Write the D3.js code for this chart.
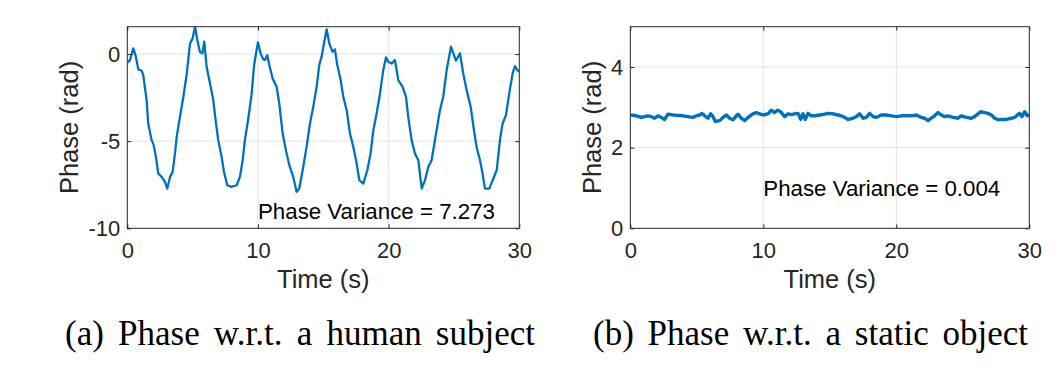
<!DOCTYPE html>
<html><head><meta charset="utf-8">
<script src="https://cdn.jsdelivr.net/npm/d3@7"></script>
<style>
body{margin:0;background:#fff;}
svg{display:block;}
</style></head>
<body>
<svg id="chart" width="1062" height="376"></svg>
<script>
// ---------- data ----------
const xTicks = [0, 10, 20, 30];
const humanYTicks = [-10, -5, 0];
const staticYTicks = [0, 2, 4];

const humanTime = [0, 0.2, 0.46, 0.66, 0.84, 1.1, 1.22, 1.48, 1.6, 1.86,
  2.0, 2.19, 2.37, 2.63, 2.88, 3.06, 3.27, 3.47, 3.65, 3.78,
  4.03, 4.29, 4.54, 4.8, 5.0, 5.18, 5.36, 5.56, 5.74, 5.89,
  6.07, 6.33, 6.58, 6.76, 6.96, 7.22, 7.4, 7.65, 7.98, 8.37,
  8.62, 8.83, 9.0, 9.26, 9.52, 9.69, 9.85, 10.0, 10.2, 10.41,
  10.54, 10.71, 10.87, 11.12, 11.43, 11.63, 11.89, 12.14, 12.4, 12.7,
  12.96, 13.16, 13.42, 13.72, 13.98, 14.23, 14.49, 14.69, 14.87, 15.05,
  15.26, 15.46, 15.71, 15.89, 16.07, 16.33, 16.53, 16.79, 17.04, 17.3,
  17.55, 17.76, 18.06, 18.37, 18.62, 18.83, 19.08, 19.34, 19.59, 19.8,
  19.97, 20.23, 20.48, 20.74, 21.07, 21.33, 21.5, 21.76, 22.01, 22.27,
  22.53, 22.78, 23.04, 23.29, 23.67, 23.93, 24.18, 24.44, 24.77, 24.95,
  25.15, 25.46, 25.71, 25.97, 26.28, 26.53, 26.73, 26.99, 27.19, 27.37,
  27.7, 27.96, 28.27, 28.52, 28.72, 28.98, 29.23, 29.49, 29.67, 29.85, 30.0];
const humanPhase = [-0.5, -0.35, 0.33, -0.15, -0.88, -0.96, -1.2, -2.64, -4.0, -4.94,
  -5.17, -5.9, -6.86, -7.05, -7.34, -7.72, -7.05, -6.76, -5.7, -4.75,
  -3.6, -2.45, -1.2, 0.61, 0.9, 1.57, 0.8, 0.13, 0.04, 0.71,
  -0.73, -1.69, -2.64, -3.8, -4.94, -5.9, -6.76, -7.53, -7.62, -7.53,
  -7.05, -6.1, -4.94, -3.7, -2.26, -0.73, 0.04, 0.67, 0.04, -0.31,
  -0.34, -0.06, -0.63, -1.4, -1.88, -2.84, -4.56, -5.52, -6.38, -7.05,
  -7.91, -7.72, -6.67, -5.33, -3.98, -3.03, -1.88, -0.63, -0.15, 0.61,
  1.42, 0.61, 0.13, 0.27, -0.63, -1.49, -2.45, -3.22, -4.56, -5.33,
  -6.28, -7.24, -7.43, -6.67, -5.7, -4.37, -3.41, -2.26, -0.92, -0.19,
  -0.44, -0.54, -0.34, -1.49, -1.88, -2.45, -3.6, -4.94, -5.7, -6.09,
  -7.72, -7.24, -6.47, -6.09, -4.37, -3.22, -2.45, -0.92, 0.42, 0.04,
  -0.38, 0.04, -1.11, -2.07, -3.03, -4.37, -5.33, -6.09, -6.86, -7.72,
  -7.72, -7.24, -6.67, -4.94, -4.0, -3.5, -2.26, -1.11, -0.69, -0.92, -1.0];

const staticTime = [0.00, 0.45, 0.83, 1.08, 1.33, 1.58, 1.83, 2.08, 2.33, 2.58,
  2.83, 3.21, 3.59, 3.96, 4.34, 4.71, 4.96, 5.22, 5.39, 5.59,
  5.84, 6.04, 6.22, 6.39, 6.72, 6.97, 7.22, 7.47, 7.72, 7.97,
  8.10, 8.35, 8.60, 8.85, 9.22, 9.48, 9.73, 9.98, 10.35, 10.60,
  10.85, 11.06, 11.31, 11.61, 11.86, 12.11, 12.36, 12.61, 12.81, 12.98,
  13.16, 13.36, 13.61, 13.86, 14.24, 14.61, 14.86, 15.24, 15.62, 15.87,
  16.12, 16.37, 16.74, 16.99, 17.24, 17.50, 17.75, 18.00, 18.25, 18.50,
  18.87, 19.25, 19.63, 20.00, 20.38, 20.76, 21.13, 21.51, 21.88, 22.13,
  22.38, 22.63, 22.88, 23.14, 23.39, 23.64, 23.89, 24.26, 24.64, 24.89,
  25.27, 25.64, 25.89, 26.14, 26.34, 26.64, 26.89, 27.15, 27.40, 27.65,
  27.90, 28.27, 28.65, 28.90, 29.10, 29.27, 29.45, 29.65, 29.85, 30.00];
const staticPhase = [2.81, 2.79, 2.75, 2.77, 2.79, 2.77, 2.73, 2.79, 2.75, 2.70,
  2.83, 2.81, 2.80, 2.79, 2.77, 2.75, 2.79, 2.81, 2.85, 2.79,
  2.73, 2.84, 2.77, 2.65, 2.67, 2.75, 2.81, 2.73, 2.69, 2.79,
  2.83, 2.73, 2.67, 2.75, 2.84, 2.87, 2.84, 2.81, 2.84, 2.93,
  2.87, 2.93, 2.89, 2.77, 2.84, 2.82, 2.84, 2.85, 2.70, 2.84,
  2.70, 2.85, 2.79, 2.79, 2.81, 2.83, 2.85, 2.84, 2.81, 2.79,
  2.75, 2.70, 2.73, 2.77, 2.84, 2.73, 2.75, 2.85, 2.77, 2.75,
  2.81, 2.81, 2.79, 2.77, 2.79, 2.79, 2.79, 2.81, 2.75, 2.73,
  2.67, 2.73, 2.79, 2.87, 2.81, 2.77, 2.79, 2.75, 2.73, 2.79,
  2.75, 2.73, 2.77, 2.84, 2.89, 2.87, 2.85, 2.81, 2.73, 2.69,
  2.70, 2.70, 2.73, 2.75, 2.81, 2.85, 2.77, 2.89, 2.79, 2.81];

const panels = [
  {time: humanTime, phase: humanPhase, yDomain: [-10, Math.PI / 2], yTicks: humanYTicks,
   note: "Phase Variance = 7.273", noteAt: [10, -9],
   caption: "(a) Phase w.r.t. a human subject"},
  {time: staticTime, phase: staticPhase, yDomain: [0, 5], yTicks: staticYTicks,
   note: "Phase Variance = 0.004", noteAt: [10, 1],
   caption: "(b) Phase w.r.t. a static object"}
];

// ---------- layout ----------
const boxes = [
  {x0: 127.3, x1: 519.3, yLab: 60, cap: [65, 535], lw: 2.3},
  {x0: 630.3, x1: 1029.3, yLab: 583, cap: [593, 1028], lw: 3.4}
];
const plotTop = 26.7, plotBottom = 228.3;
const axisColor = "#262626";
const gridColor = "#e2e2e2";
const lineColor = "#0072BD";
const sans = "'Liberation Sans', Arial, Helvetica, sans-serif";

const svg = d3.select("#chart");
svg.append("rect").attr("width", 1062).attr("height", 376).attr("fill", "#fff");

panels.forEach((p, i) => {
  const b = boxes[i];
  const x = d3.scaleLinear().domain([0, 30]).range([b.x0, b.x1]);
  const y = d3.scaleLinear().domain(p.yDomain).range([plotBottom, plotTop]);
  const g = svg.append("g");

  // grid
  g.append("g").selectAll("line").data(xTicks.slice(1, -1)).join("line")
    .attr("x1", d => x(d)).attr("x2", d => x(d)).attr("y1", plotTop).attr("y2", plotBottom)
    .attr("stroke", gridColor).attr("stroke-width", 1);
  g.append("g").selectAll("line").data(p.yTicks.filter(t => t > p.yDomain[0])).join("line")
    .attr("y1", d => y(d)).attr("y2", d => y(d)).attr("x1", b.x0).attr("x2", b.x1)
    .attr("stroke", gridColor).attr("stroke-width", 1);

  // clip
  const cid = "clip" + i;
  svg.append("clipPath").attr("id", cid).append("rect")
    .attr("x", b.x0).attr("y", plotTop).attr("width", b.x1 - b.x0).attr("height", plotBottom - plotTop);

  // line
  const line = d3.line().x(d => x(d[0])).y(d => y(d[1]));
  g.append("path").datum(d3.zip(p.time, p.phase))
    .attr("clip-path", `url(#${cid})`)
    .attr("d", line).attr("fill", "none").attr("stroke", lineColor)
    .attr("stroke-width", b.lw).attr("stroke-linejoin", "round");

  // axes
  const fmt = d => String(d);
  const styleAxis = sel => {
    sel.select(".domain").remove();
    sel.selectAll(".tick line").attr("stroke", axisColor);
    sel.selectAll(".tick text").attr("fill", axisColor)
      .style("font-family", sans).style("font-size", "22px");
  };
  g.append("g").attr("transform", `translate(0,${plotBottom})`)
    .call(d3.axisBottom(x).tickValues(xTicks).tickSize(-4).tickPadding(14).tickFormat(fmt))
    .call(styleAxis);
  g.append("g").attr("transform", `translate(0,${plotTop})`)
    .call(d3.axisTop(x).tickValues(xTicks).tickSize(-4).tickFormat(""))
    .call(styleAxis);
  g.append("g").attr("transform", `translate(${b.x0},0)`)
    .call(d3.axisLeft(y).tickValues(p.yTicks).tickSize(-4).tickPadding(7).tickFormat(fmt))
    .call(styleAxis);
  g.append("g").attr("transform", `translate(${b.x1},0)`)
    .call(d3.axisRight(y).tickValues(p.yTicks).tickSize(-4).tickFormat(""))
    .call(styleAxis);

  // box
  g.append("rect").attr("x", b.x0).attr("y", plotTop).attr("width", b.x1 - b.x0).attr("height", plotBottom - plotTop)
    .attr("fill", "none").attr("stroke", axisColor).attr("stroke-width", 1);

  // labels
  g.append("text").attr("x", (b.x0 + b.x1) / 2).attr("y", 288).attr("text-anchor", "middle")
    .attr("fill", axisColor).style("font-family", sans).style("font-size", "25.5px").text("Time (s)");
  g.append("text").attr("transform", `translate(${b.yLab},${(plotTop + plotBottom) / 2}) rotate(-90)`)
    .attr("text-anchor", "middle").attr("dy", "0.71em")
    .attr("fill", axisColor).style("font-family", sans).style("font-size", "25.5px").text("Phase (rad)");

  // annotation
  g.append("text").attr("x", x(p.noteAt[0])).attr("y", y(p.noteAt[1])).attr("dy", "0.36em")
    .attr("fill", "#000").style("font-family", sans).style("font-size", "22.3px").text(p.note);

  // caption
  const cap = svg.append("text").attr("x", b.cap[0]).attr("y", 345)
    .attr("fill", "#000").style("font-family", "'Liberation Serif', 'Times New Roman', serif")
    .style("font-size", "35px").text(p.caption);
  const w = cap.node().getComputedTextLength();
  const nSp = p.caption.split(" ").length - 1;
  cap.attr("word-spacing", Math.max(0, (b.cap[1] - b.cap[0] - w) / nSp));
});
</script>
</body></html>
